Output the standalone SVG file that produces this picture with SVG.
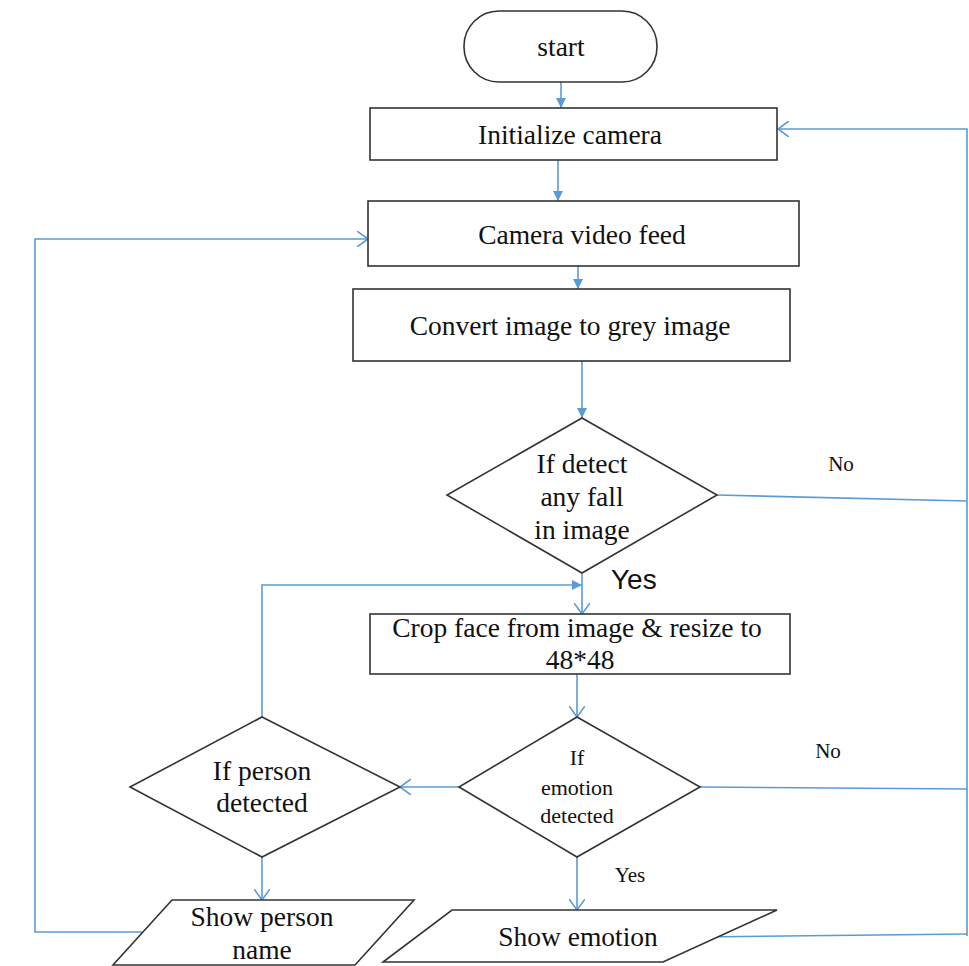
<svg xmlns="http://www.w3.org/2000/svg" width="969" height="966" viewBox="0 0 969 966">
<style>
.box{fill:#fff;stroke:#333;stroke-width:1.6}
.t{font-family:"Liberation Serif","Times New Roman",serif;font-size:27.5px;fill:#111;text-anchor:middle}
.s{font-size:22px}
.n{font-size:21px}
.c{fill:none;stroke:#5B9BD5;stroke-width:1.6}
.y{font-family:"Liberation Sans",Arial,sans-serif;font-size:28px;fill:#111}
</style>
<defs>
<marker id="fa" viewBox="0 0 10 10" refX="10" refY="5" markerWidth="10" markerHeight="10" markerUnits="userSpaceOnUse" orient="auto">
<path d="M0,0 L10,5 L0,10 Z" fill="#5B9BD5"/>
</marker>
<marker id="oa" viewBox="0 0 12 16" refX="11" refY="8" markerWidth="12" markerHeight="16" markerUnits="userSpaceOnUse" orient="auto">
<path d="M0,0 L11,8 L0,16" fill="none" stroke="#5B9BD5" stroke-width="1.6"/>
</marker>
</defs>
<rect width="969" height="966" fill="#fff"/>
<g id="connectors">
<path class="c" d="M561,82 V108" marker-end="url(#fa)"/>
<path class="c" d="M558,160 V201" marker-end="url(#fa)"/>
<path class="c" d="M578,266 V289" marker-end="url(#fa)"/>
<path class="c" d="M582,361 V418" marker-end="url(#fa)"/>
<path class="c" d="M582,573 V614" marker-end="url(#oa)"/>
<path class="c" d="M262,717 V585 H582" marker-end="url(#fa)"/>
<path class="c" d="M577,674 V717" marker-end="url(#oa)"/>
<path class="c" d="M459,787 H400" marker-end="url(#oa)"/>
<path class="c" d="M262,857 V900" marker-end="url(#oa)"/>
<path class="c" d="M577,857 V910" marker-end="url(#oa)"/>
<path class="c" d="M142,932 H35 V239 H368" marker-end="url(#oa)"/>
<path class="c" d="M717,495 L967,501"/>
<path class="c" d="M700,787 L967,789"/>
<path class="c" d="M697,937 L967,934"/>
<path class="c" d="M967,936 V129 H778" marker-end="url(#oa)"/>
</g>
<g id="start">
<rect class="box" x="464" y="11" width="193" height="71" rx="35"/>
<text class="t" x="561" y="56">start</text>
</g>
<g id="init">
<rect class="box" x="370" y="108" width="407" height="52"/>
<text class="t" x="570" y="144">Initialize camera</text>
</g>
<g id="feed">
<rect class="box" x="368" y="201" width="431" height="65"/>
<text class="t" x="582" y="244">Camera video feed</text>
</g>
<g id="convert">
<rect class="box" x="353" y="289" width="437" height="72"/>
<text class="t" x="570" y="335">Convert image to grey image</text>
</g>
<g id="fall">
<polygon class="box" points="582,418 717,495 582,573 447,495"/>
<text class="t" x="582" y="473">If detect</text>
<text class="t" x="582" y="506">any fall</text>
<text class="t" x="582" y="539">in image</text>
</g>
<text class="y" x="611" y="589">Yes</text>
<text class="t n" x="841" y="471">No</text>
<g id="crop">
<rect class="box" x="370" y="614" width="420" height="60"/>
<text class="t" x="577" y="637">Crop face from image &amp; resize to</text>
<text class="t" x="580" y="669">48*48</text>
</g>
<g id="emotion">
<polygon class="box" points="577,717 700,787 577,857 459,787"/>
<text class="t s" x="577" y="765">If</text>
<text class="t s" x="577" y="795">emotion</text>
<text class="t s" x="577" y="823">detected</text>
</g>
<text class="t n" x="828" y="758">No</text>
<text class="t n" x="630" y="882">Yes</text>
<g id="person">
<polygon class="box" points="262,717 400,787 262,857 130,787"/>
<text class="t" x="262" y="780">If person</text>
<text class="t" x="262" y="812">detected</text>
</g>
<g id="showname">
<polygon class="box" points="172,900 414,900 355,965 113,965"/>
<text class="t" x="262" y="926">Show person</text>
<text class="t" x="262" y="959">name</text>
</g>
<g id="showemotion">
<polygon class="box" points="452,910 777,910 663,962 383,962"/>
<text class="t" x="578" y="946">Show emotion</text>
</g>
</svg>
